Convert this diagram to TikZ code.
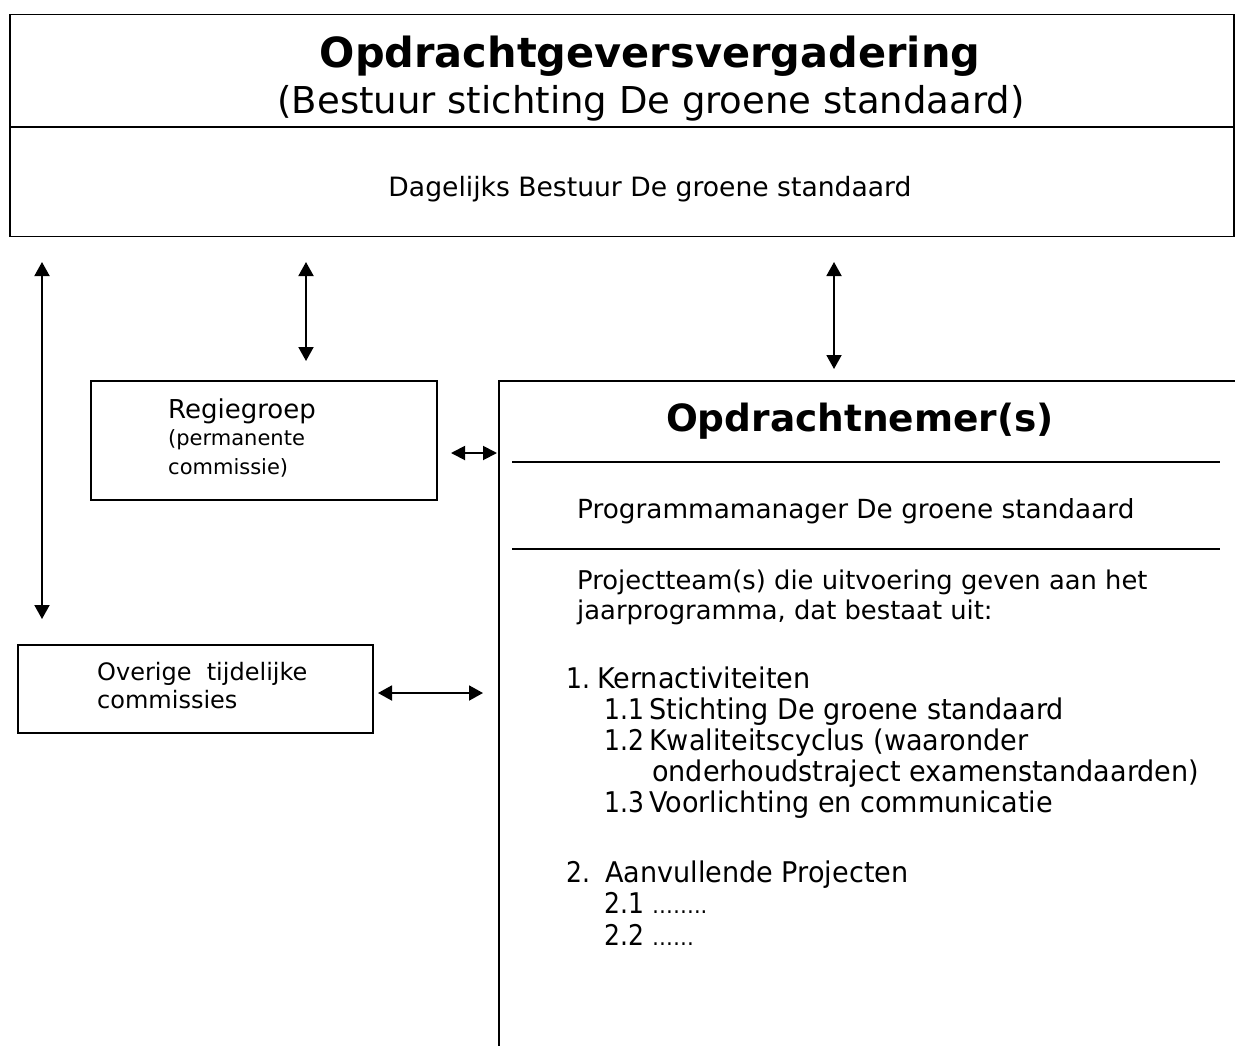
\documentclass[tikz,border=0pt]{standalone}
\usepackage{fontspec}
\setmainfont{DejaVu Sans}
\newfontfamily\tah[FakeStretch=0.95]{DejaVu Sans}
\newfontfamily\tahnum[FakeStretch=0.88]{DejaVu Sans}
\usetikzlibrary{arrows.meta}
\tikzset{
  ln/.style={line width=1.9pt},
  dbl/.style={ln,{Triangle[width=15pt,length=14pt]}-{Triangle[width=15pt,length=14pt]}},
  dbls/.style={ln,{Triangle[width=14pt,length=14pt]}-{Triangle[width=14pt,length=14pt]}},
  txt/.style={inner sep=0pt,anchor=base west},
  ctxt/.style={inner sep=0pt,anchor=base},
  boxst/.style={draw,ln,inner sep=0pt},
  numst/.style={txt,font=\fontsize{28.5}{32}\selectfont\tahnum}
}
\begin{document}
\begin{tikzpicture}[x=1pt,y=-1pt]
\clip (0,0) rectangle (1235,1045);
\fill[white] (0,0) rectangle (1235,1045);
% top box
\node[boxst,minimum width=1224pt,minimum height=222pt,anchor=north west] (top) at (9,13.5) {};
\draw[ln] (top.west |- 0,127) coordinate (dl) -- (top.east |- 0,127) coordinate (dr);
\node[ctxt,font=\fontsize{41.5}{46}\selectfont\bfseries] (t1) at (650,67) {Opdrachtgeversvergadering};
\node[ctxt,font=\fontsize{37}{42}\selectfont] (t2) at (651,113) {(Bestuur stichting De groene standaard)};
\node[ctxt,font=\fontsize{26.6}{30}\selectfont] (t3) at (650,196) {Dagelijks Bestuur De groene standaard};
% Regiegroep
\node[boxst,minimum width=346pt,minimum height=119pt,anchor=north west] (rg) at (90,380) {};
\node[txt,font=\fontsize{26}{30}\selectfont] (rg1) at (168,418) {Regiegroep};
\node[txt,font=\fontsize{21}{24}\selectfont] (rg2) at (168,445) {(permanente};
\node[txt,font=\fontsize{21}{24}\selectfont] (rg3) at (168,474) {commissie)};
% Overige
\node[boxst,minimum width=355pt,minimum height=88pt,anchor=north west] (ov) at (17,644) {};
\node[txt,font=\fontsize{24}{28}\selectfont] (ov1) at (97,680) {Overige\ \ tijdelijke};
\node[txt,font=\fontsize{24}{28}\selectfont] (ov2) at (97,708) {commissies};
% Opdrachtnemer box (cut off at right and bottom)
\node[boxst,minimum width=900pt,minimum height=800pt,anchor=north west] (on) at (498,380) {};
\node[ctxt,font=\fontsize{37.5}{42}\selectfont\bfseries] (on1) at (860,431) {Opdrachtnemer(s)};
\draw[ln] (512,462) coordinate (l1a) -- (1220,462) coordinate (l1b);
\node[txt,font=\fontsize{26.3}{30}\selectfont] (pm) at (577,518) {Programmamanager De groene standaard};
\draw[ln] (512,549) coordinate (l2a) -- (1220,549) coordinate (l2b);
\node[txt,font=\fontsize{25.8}{30}\selectfont] (pt1) at (577,589) {Projectteam(s) die uitvoering geven aan het};
\node[txt,font=\fontsize{25.8}{30}\selectfont] (pt2) at (577,619) {jaarprogramma, dat bestaat uit:};
\begin{scope}[every node/.append style={font=\fontsize{28.5}{32}\selectfont\tah}]
\node[numst] (k0n) at (566,688) {1.};
\node[txt] (k0) at (597,688) {Kernactiviteiten};
\node[numst] (k1n) at (604,719) {1.1};
\node[txt] (k1) at (649,719) {Stichting De groene standaard};
\node[numst] (k2n) at (604,750) {1.2};
\node[txt] (k2) at (649,750) {Kwaliteitscyclus (waaronder};
\node[txt] (k2b) at (652,781) {onderhoudstraject examenstandaarden)};
\node[numst] (k3n) at (604,812) {1.3};
\node[txt] (k3) at (649,812) {Voorlichting en communicatie};
\node[numst] (a0n) at (566,882) {2.};
\node[txt] (a0) at (605,882) {Aanvullende Projecten};
\node[numst] (a1n) at (604,913) {2.1};
\node[txt,font=\fontsize{22}{26}\selectfont\tah] (a1) at (652,913) {……..};
\node[numst] (a2n) at (604,945) {2.2};
\node[txt,font=\fontsize{22}{26}\selectfont\tah] (a2) at (652,945) {……};
\end{scope}
% arrows
\coordinate (a1t) at (42,262); \coordinate (a1b) at (42,619);
\coordinate (a2t) at (306,262); \coordinate (a2b) at (306,361);
\coordinate (a3t) at (834,262); \coordinate (a3b) at (834,369);
\coordinate (h1l) at (451,453); \coordinate (h1r) at (497,453);
\coordinate (h2l) at (378,693); \coordinate (h2r) at (483,693);
\draw[dbl] (a1t) -- (a1b);
\draw[dbl] (a2t) -- (a2b);
\draw[dbl] (a3t) -- (a3b);
\draw[dbls] (h1l) -- (h1r);
\draw[dbl] (h2l) -- (h2r);
\end{tikzpicture}
\end{document}
